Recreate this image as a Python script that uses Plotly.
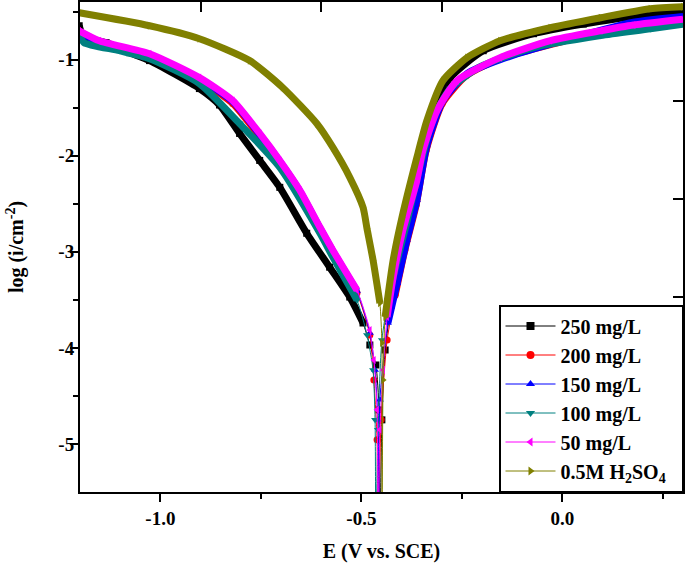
import plotly.graph_objects as go

# ---- data (E in V vs SCE, log i) ----
names = ["250 mg/L", "200 mg/L", "150 mg/L", "100 mg/L", "50 mg/L", "0.5M H<sub>2</sub>SO<sub>4</sub>\u00a0\u00a0"]
colors = ["#000000", "#FF0000", "#0000FF", "#008080", "#FF00FF", "#808000"]
symbols = ["square", "circle", "triangle-up", "triangle-down", "triangle-left", "triangle-right"]

E_250 = [-1.202, -1.190, -1.135, -1.077, -1.027, -0.903, -0.853, -0.803, -0.753, -0.703, -0.636, -0.579, -0.529, -0.496, -0.479, -0.464, -0.456, -0.454,
         -0.449, -0.441, -0.426, -0.404, -0.387, -0.354, -0.322, -0.279, -0.197, -0.072, 0.052, 0.177, 0.300]
L_250 = [-0.647, -0.772, -0.823, -0.927, -1.010, -1.301, -1.472, -1.768, -2.049, -2.329, -2.807, -3.160, -3.471, -3.741, -3.970, -4.178, -4.645, -6.0,
         -4.749, -4.022, -3.555, -3.139, -2.640, -1.945, -1.530, -1.187, -0.907, -0.730, -0.630, -0.550, -0.510]

E_200 = [-1.202, -1.152, -1.027, -0.903, -0.820, -0.753, -0.703, -0.653, -0.603, -0.571, -0.511, -0.479, -0.469, -0.461, -0.459,
         -0.451, -0.436, -0.416, -0.392, -0.364, -0.339, -0.299, -0.239, -0.155, 0.012, 0.177, 0.300]
L_200 = [-0.709, -0.813, -0.958, -1.208, -1.457, -1.800, -2.070, -2.391, -2.776, -3.004, -3.430, -3.866, -4.333, -4.956, -6.0,
         -4.749, -3.918, -3.451, -2.983, -2.516, -1.945, -1.457, -1.166, -0.990, -0.800, -0.630, -0.570]

E_150 = [-1.202, -1.152, -1.027, -0.903, -0.820, -0.753, -0.703, -0.653, -0.603, -0.571, -0.511, -0.479, -0.466, -0.459, -0.456,
         -0.454, -0.434, -0.411, -0.387, -0.362, -0.337, -0.297, -0.237, -0.155, 0.012, 0.177, 0.300]
L_150 = [-0.720, -0.813, -0.958, -1.197, -1.436, -1.779, -2.059, -2.371, -2.755, -2.994, -3.409, -3.845, -4.229, -4.749, -6.0,
         -4.541, -3.741, -3.326, -2.880, -2.464, -1.893, -1.426, -1.145, -1.000, -0.790, -0.610, -0.550]

E_100 = [-1.202, -1.190, -1.102, -1.027, -0.903, -0.803, -0.703, -0.603, -0.571, -0.511, -0.486, -0.471, -0.466, -0.464,
         -0.459, -0.449, -0.434, -0.411, -0.387, -0.354, -0.322, -0.279, -0.204, -0.072, 0.095, 0.219, 0.300]
L_100 = [-0.730, -0.823, -0.907, -0.990, -1.249, -1.665, -2.121, -2.807, -3.056, -3.503, -3.866, -4.229, -4.749, -6.0,
         -4.853, -3.918, -3.503, -3.087, -2.693, -2.101, -1.613, -1.301, -1.073, -0.875, -0.750, -0.680, -0.630]

E_50 = [-1.202, -1.152, -1.027, -0.903, -0.820, -0.753, -0.703, -0.653, -0.603, -0.571, -0.511, -0.479, -0.469, -0.461, -0.459,
        -0.454, -0.446, -0.436, -0.421, -0.397, -0.362, -0.347, -0.312, -0.262, -0.155, -0.030, 0.095, 0.177, 0.300]
L_50 = [-0.699, -0.803, -0.938, -1.187, -1.426, -1.768, -2.049, -2.360, -2.745, -2.983, -3.399, -3.814, -4.126, -4.645, -6.0,
        -4.853, -4.229, -3.679, -3.264, -2.776, -2.256, -1.945, -1.530, -1.218, -0.979, -0.803, -0.700, -0.640, -0.580]

E_H2SO4 = [-1.202, -1.027, -0.903, -0.778, -0.696, -0.611, -0.571, -0.529, -0.496, -0.486, -0.471, -0.454, -0.449, -0.449,
           -0.446, -0.441, -0.421, -0.399, -0.362, -0.337, -0.297, -0.237, -0.155, -0.030, 0.095, 0.219, 0.300]
L_H2SO4 = [-0.512, -0.647, -0.782, -1.010, -1.290, -1.665, -1.914, -2.225, -2.537, -2.760, -3.087, -3.534, -3.949, -6.0,
           -4.333, -3.679, -3.087, -2.641, -2.018, -1.633, -1.218, -0.979, -0.803, -0.668, -0.564, -0.470, -0.450]

series_E = [E_250, E_200, E_150, E_100, E_50, E_H2SO4]
series_L = [L_250, L_200, L_150, L_100, L_50, L_H2SO4]

x_tickvals = [-1.0, -0.5, 0.0]
x_ticktext = ["-1.0", "-0.5", "0.0"]
x_minor = [-0.75, -0.25, 0.25]
y_tickvals = [-5, -4, -3, -2, -1]
y_ticktext = ["-5", "-4", "-3", "-2", "-1"]
y_minor = [-4.5, -3.5, -2.5, -1.5, -0.5]
top_ticks = [-0.9, -0.6, -0.3, 0.0]
right_ticks = [-1.43, -2.45, -3.47, -4.48]

FONT = "Liberation Serif, Times New Roman, serif"

fig = go.Figure()
for E, L, c, s in zip(series_E, series_L, colors, symbols):
    band = [v if v >= -3.75 else None for v in L]
    fig.add_trace(go.Scatter(x=E, y=band, mode="lines", line=dict(color=c, width=7, shape="spline", smoothing=0.6),
                             showlegend=False, hoverinfo="skip", connectgaps=False))
    fig.add_trace(go.Scatter(x=E, y=L, mode="lines+markers", line=dict(color=c, width=1, shape="spline", smoothing=0.6),
                             marker=dict(symbol=s, size=7, color=c), showlegend=False))

for n, c, s in zip(names, colors, symbols):
    fig.add_trace(go.Scatter(x=[None], y=[None], mode="lines+markers", name=n,
                             line=dict(color=c, width=1), marker=dict(symbol=s, size=8, color=c)))

# invisible trace so the mirrored top/right axes are drawn
fig.add_trace(go.Scatter(x=[x_tickvals[0]], y=[y_tickvals[0]], xaxis="x2", yaxis="y2", mode="markers",
                         marker=dict(opacity=0), showlegend=False, hoverinfo="skip"))

axis_common = dict(showgrid=False, zeroline=False, showline=True, linecolor="black", linewidth=2,
                   tickcolor="black", tickwidth=2, automargin=False)
fig.update_layout(
    width=685, height=564,
    margin=dict(l=80, r=2, t=2, b=72),
    paper_bgcolor="white", plot_bgcolor="white",
    font=dict(family=FONT, color="black"),
    xaxis=dict(range=[-1.2, 0.3], tickvals=x_tickvals, ticktext=x_ticktext, ticks="outside", ticklen=8,
               minor=dict(tickvals=x_minor, ticks="outside", ticklen=5, tickwidth=2, tickcolor="black"),
               tickfont=dict(size=19, family=FONT, weight="bold"),
               title=dict(text="E (V vs. SCE)", font=dict(size=20, family=FONT, weight="bold"), standoff=16),
               **axis_common),
    yaxis=dict(range=[-5.5, -0.4], tickvals=y_tickvals, ticktext=y_ticktext, ticks="outside", ticklen=8,
               ticklabelstandoff=-8,
               minor=dict(tickvals=y_minor, ticks="outside", ticklen=5, tickwidth=2, tickcolor="black"),
               tickfont=dict(size=19, family=FONT, weight="bold"),
               title=dict(text="log (i/cm<sup>-2</sup>)", font=dict(size=20, family=FONT, weight="bold"), standoff=29),
               **axis_common),
    xaxis2=dict(overlaying="x", side="top", range=[-1.2, 0.3], tickvals=top_ticks, ticks="inside", ticklen=10,
                showticklabels=False, **axis_common),
    yaxis2=dict(overlaying="y", side="right", range=[-5.5, -0.4], tickvals=right_ticks, ticks="inside", ticklen=10,
                showticklabels=False, **axis_common),
    legend=dict(x=1, y=0, xanchor="right", yanchor="bottom", bgcolor="white", bordercolor="black", borderwidth=1.5,
                font=dict(size=20, family=FONT, weight="bold"), tracegroupgap=0, itemwidth=50),
    showlegend=True,
)

fig.write_html("out.html", post_script="document.body.style.margin='0';",
               config={"displayModeBar": False})
